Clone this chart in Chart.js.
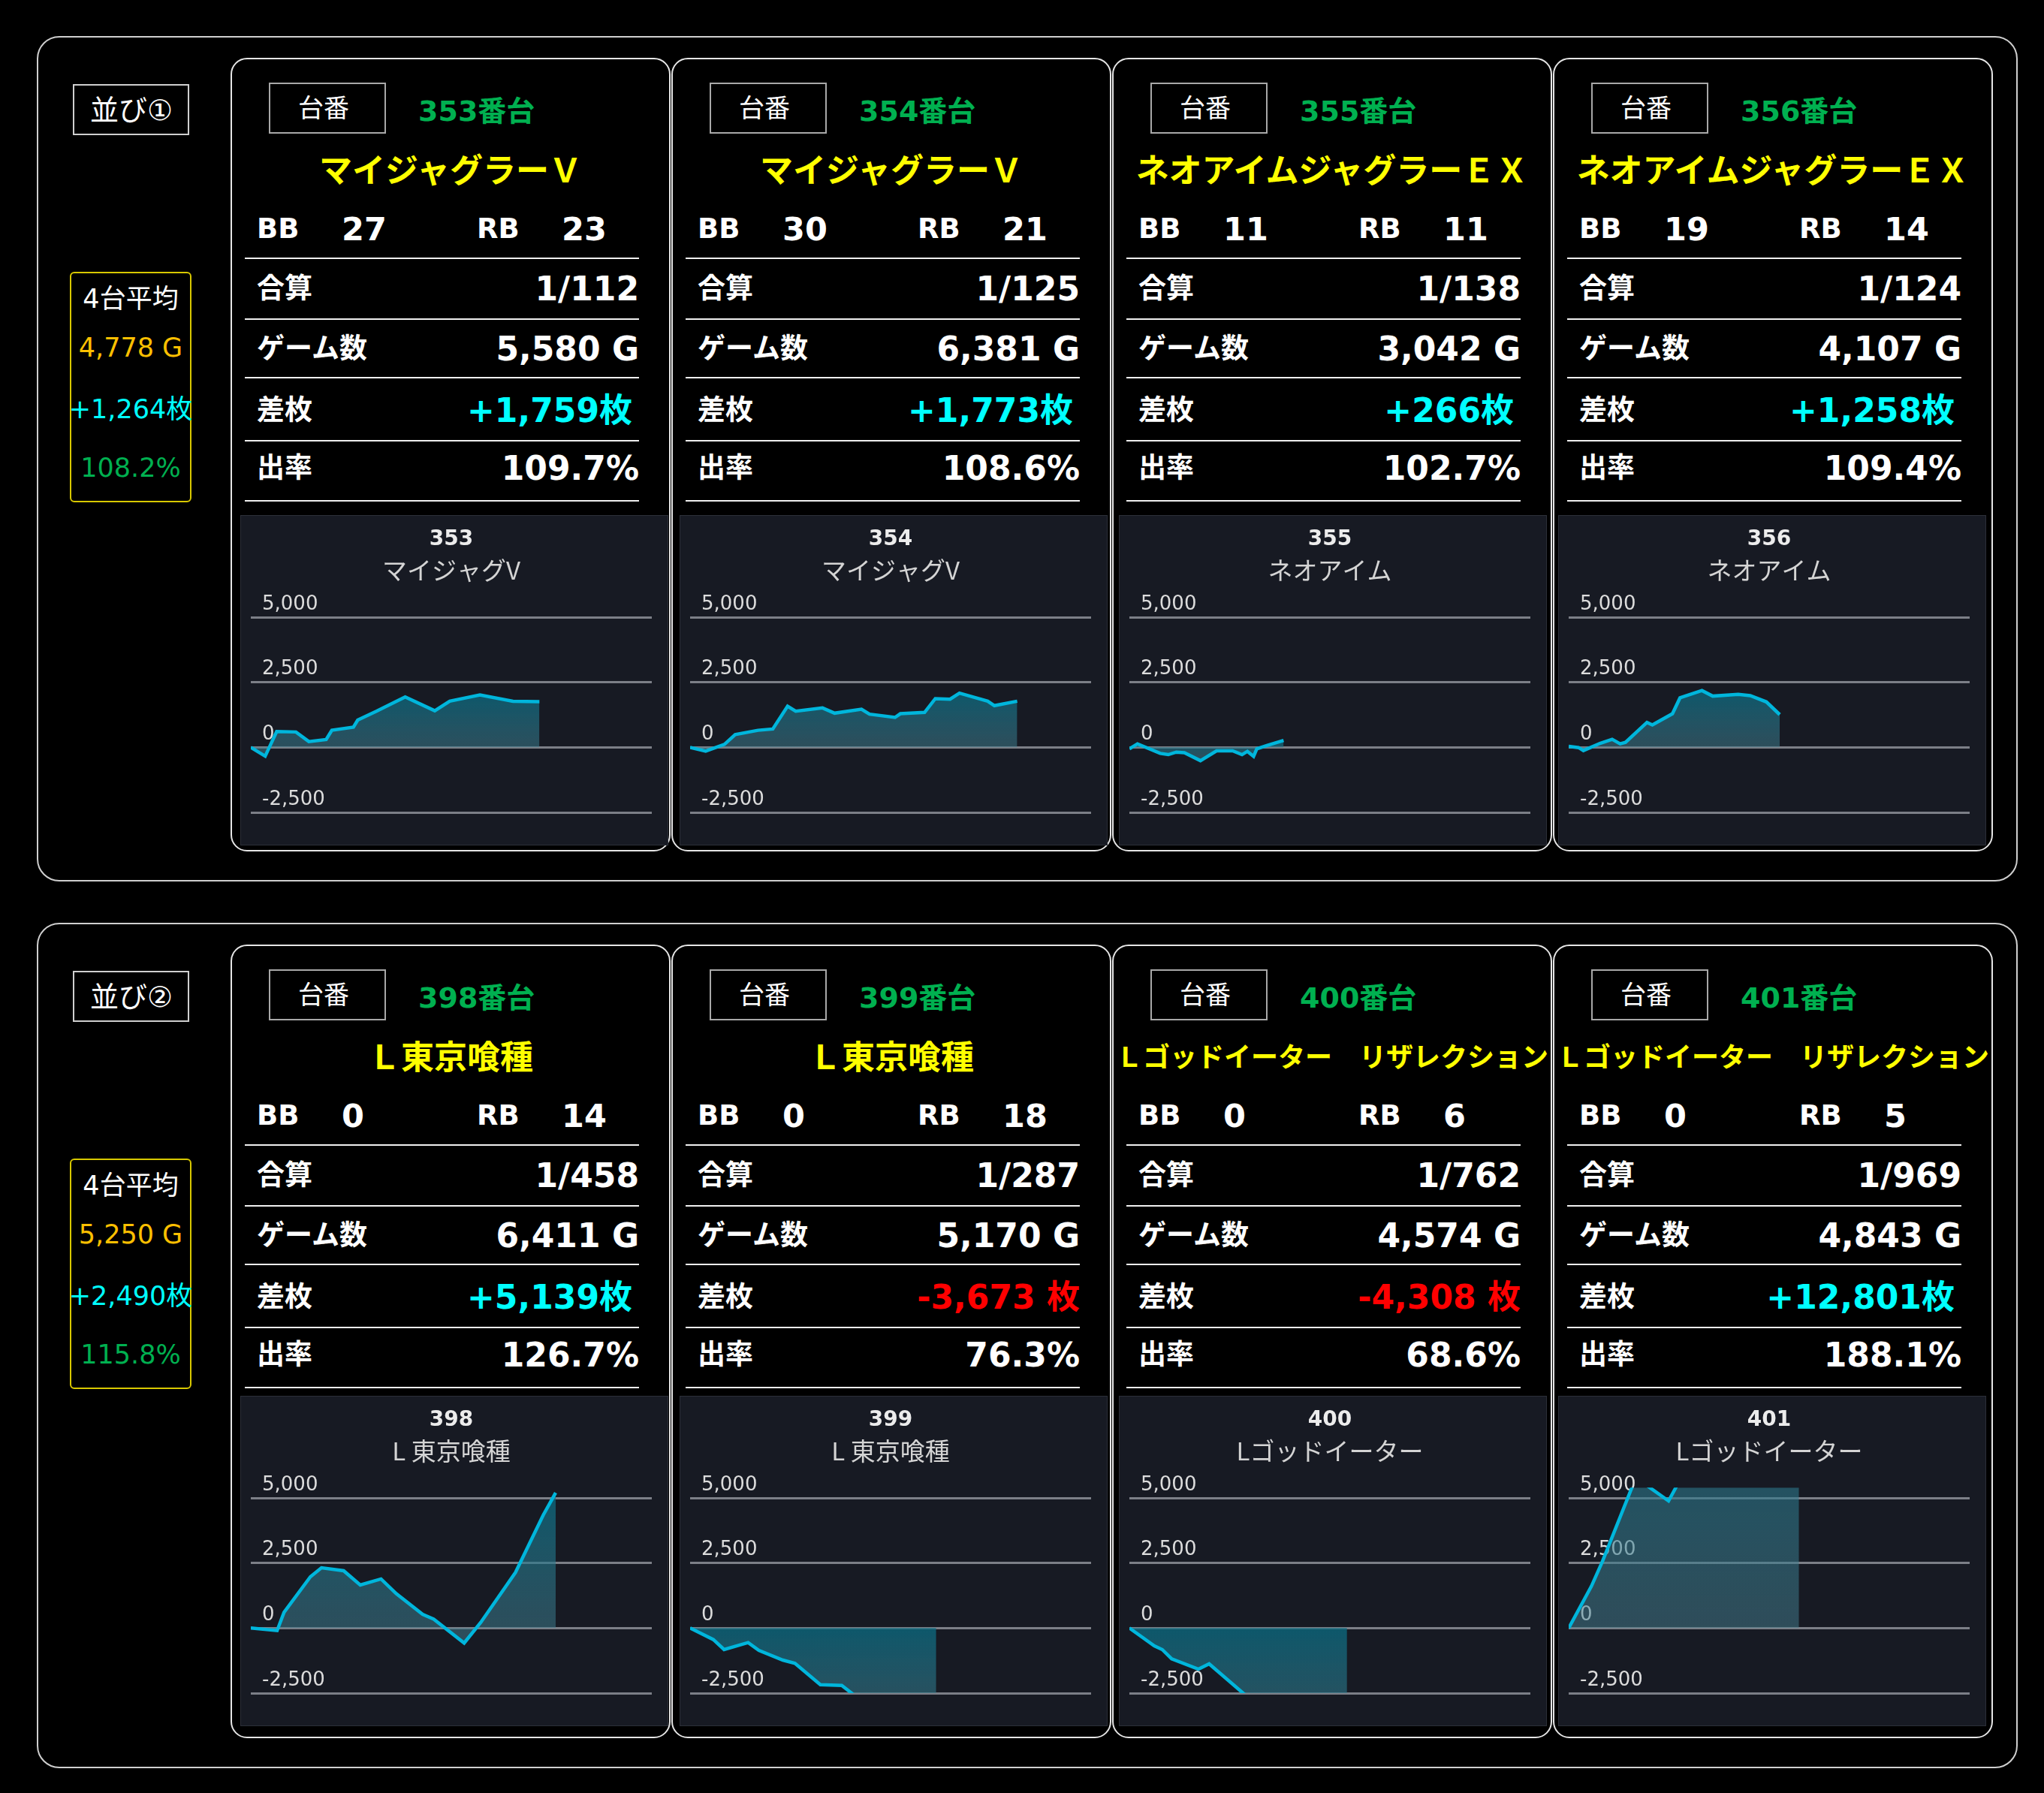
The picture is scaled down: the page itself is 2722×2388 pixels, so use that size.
<!DOCTYPE html>
<html lang="ja">
<head>
  <meta charset="UTF-8" />
  <title>並び データ</title>
  <script src="https://cdn.jsdelivr.net/npm/chart.js"></script>
  <style>
    * {
      box-sizing: border-box;
    }
    body {
      margin: 0;
      background: #000;
      width: 2722px;
      height: 2388px;
      position: relative;
      overflow: hidden;
      font-family: "DejaVu Sans", "Noto Sans CJK JP", sans-serif;
      color: #fff;
    }
    .group {
      position: absolute;
      left: 49px;
      width: 2638px;
      height: 1126px;
      border: 2px solid #cfcfcf;
      border-radius: 30px;
    }
    .card {
      position: absolute;
      width: 586px;
      height: 1057px;
      border: 2px solid #e6e6e6;
      border-radius: 22px;
    }
    .box {
      position: absolute;
    }
    .t {
      position: absolute;
      white-space: nowrap;
    }
    .rule {
      position: absolute;
      height: 2px;
      background: #f0f0f0;
    }
    .panel {
      position: absolute;
      width: 568px;
      height: 438px;
      background: #171a23;
      outline: 1px solid #2c2f38;
    }
  </style>
</head>
<body>
  <script>
  // ---- machine table ----
  const units = ["353", "354", "355", "356", "398", "399", "400", "401"];
  const names = ["マイジャグラーＶ", "マイジャグラーＶ", "ネオアイムジャグラーＥＸ", "ネオアイムジャグラーＥＸ",
                 "Ｌ東京喰種", "Ｌ東京喰種", "Ｌゴッドイーター　リザレクション", "Ｌゴッドイーター　リザレクション"];
  const shortNames = ["マイジャグV", "マイジャグV", "ネオアイム", "ネオアイム",
                      "L 東京喰種", "L 東京喰種", "Lゴッドイーター", "Lゴッドイーター"];
  const bbCounts = [27, 30, 11, 19, 0, 0, 0, 0];
  const rbCounts = [23, 21, 11, 14, 14, 18, 6, 5];
  const gassan = ["1/112", "1/125", "1/138", "1/124", "1/458", "1/287", "1/762", "1/969"];
  const gameCounts = ["5,580 G", "6,381 G", "3,042 G", "4,107 G", "6,411 G", "5,170 G", "4,574 G", "4,843 G"];
  const diffs = ["+1,759枚", "+1,773枚", "+266枚", "+1,258枚", "+5,139枚", "-3,673 枚", "-4,308 枚", "+12,801枚"];
  const rates = ["109.7%", "108.6%", "102.7%", "109.4%", "126.7%", "76.3%", "68.6%", "188.1%"];

  const groupLabels = ["並び①", "並び②"];
  const avgGames = ["4,778 G", "5,250 G"];
  const avgDiffs = ["+1,264枚", "+2,490枚"];
  const avgRates = ["108.2%", "115.8%"];

  // ---- slump graphs: game position / diff coins ----
  const pos353 = [0, 287, 516, 900, 1158, 1503, 1617, 2047, 2133, 2506, 3080, 3670, 3969, 4571, 5230, 5758];
  const diff353 = [0, -339, 610, 591, 223, 300, 659, 775, 1047, 1386, 1938, 1405, 1773, 2016, 1773, 1759];
  const pos354 = [0, 311, 686, 900, 1356, 1650, 1945, 2106, 2642, 2883, 3419, 3579, 4088, 4195, 4678, 4892, 5187, 5374, 5937, 6071, 6526];
  const diff354 = [0, -145, 116, 492, 656, 705, 1583, 1390, 1515, 1313, 1467, 1274, 1149, 1293, 1342, 1873, 1853, 2085, 1776, 1602, 1773];
  const pos355 = [0, 161, 615, 776, 936, 1097, 1418, 1739, 2060, 2247, 2355, 2478, 2542, 2756, 3077];
  const diff355 = [-58, 135, -232, -280, -183, -203, -512, -135, -135, -280, -154, -347, -58, 77, 266];
  const pos356 = [0, 198, 294, 626, 867, 1027, 1134, 1562, 1670, 2071, 2221, 2659, 2874, 3382, 3623, 3944, 4211];
  const diff356 = [39, -10, -125, 154, 309, 135, 193, 956, 859, 1293, 1902, 2182, 1969, 2037, 1988, 1747, 1258];
  const pos398 = [0, 525, 663, 1189, 1410, 1852, 2184, 2598, 2903, 3428, 3649, 4257, 4589, 5280, 5833, 6082];
  const diff398 = [0, -96, 603, 1973, 2318, 2203, 1657, 1887, 1322, 527, 345, -575, 220, 2136, 4339, 5200];
  const pos399 = [0, 464, 678, 1158, 1372, 1852, 2092, 2599, 3026, 3293, 3853, 4387, 4910];
  const diff399 = [0, -442, -827, -558, -856, -1231, -1356, -2173, -2202, -2606, -3100, -3450, -3673];
  const pos400 = [0, 497, 657, 844, 1378, 1591, 2286, 2980, 3674, 4342];
  const diff400 = [0, -683, -827, -1183, -1577, -1375, -2529, -3300, -3900, -4308];
  const pos401 = [0, 454, 675, 1340, 1993, 2336, 3001, 3831, 4595];
  const diff401 = [0, 1609, 2567, 5780, 4885, 6100, 8000, 10500, 12801];

  const graphPos = [pos353, pos354, pos355, pos356, pos398, pos399, pos400, pos401];
  const graphDiff = [diff353, diff354, diff355, diff356, diff398, diff399, diff400, diff401];

  const yTicks = [-2500, 0, 2500, 5000];
  const X_MAX = 8000;
  const Y_MIN = -2500;
  const Y_MAX = 5400;

  const LATIN = "'DejaVu Sans', 'Noto Sans CJK JP', sans-serif";
  const CJK = "'Noto Sans CJK JP', sans-serif";

  // ---- little DOM helpers ----
  function put(parent, text, x, cy, size, opts = {}) {
    const el = document.createElement("div");
    el.className = "t";
    const h = Math.round(size * 1.4);
    el.style.top = (cy - h / 2) + "px";
    el.style.height = h + "px";
    el.style.lineHeight = h + "px";
    el.style.fontSize = size + "px";
    el.style.fontWeight = opts.bold ? "700" : "400";
    el.style.color = opts.color || "#fff";
    if (opts.align === "right") {
      el.style.left = (x - 1000) + "px";
      el.style.width = "1000px";
      el.style.textAlign = "right";
    } else if (opts.align === "center") {
      el.style.left = (x - 500) + "px";
      el.style.width = "1000px";
      el.style.textAlign = "center";
    } else {
      el.style.left = x + "px";
    }
    el.textContent = text;
    parent.appendChild(el);
    return el;
  }

  function box(parent, x, y, w, h, css) {
    const el = document.createElement("div");
    el.className = "box";
    el.style.left = x + "px";
    el.style.top = y + "px";
    el.style.width = w + "px";
    el.style.height = h + "px";
    Object.assign(el.style, css || {});
    parent.appendChild(el);
    return el;
  }

  const cardLeft = [307, 894, 1481, 2068];
  const groupOffset = [0, 1181];
  const panelTop = [687, 1860];
  const ruleY = [267, 348, 426, 510, 590];
  const rowY = [307, 387, 469, 546];
  const rowLabels = ["合算", "ゲーム数", "差枚", "出率"];

  for (let g = 0; g < 2; g++) {
    const off = groupOffset[g];
    const grp = document.createElement("div");
    grp.className = "group";
    grp.style.top = (48 + off) + "px";
    document.body.appendChild(grp);

    box(document.body, 97, 112 + off, 155, 68, { border: "2px solid #cfcfcf" });
    put(document.body, groupLabels[g], 175, 147 + off, 38, { align: "center" });

    box(document.body, 93, 362 + off, 162, 307, { border: "2px solid #d8c800", borderRadius: "6px" });
    put(document.body, "4台平均", 174, 398 + off, 35, { align: "center" });
    put(document.body, avgGames[g], 174, 463 + off, 35, { align: "center", color: "#ffc000" });
    put(document.body, avgDiffs[g], 174, 545 + off, 35, { align: "center", color: "#00ffff" });
    put(document.body, avgRates[g], 174, 623 + off, 35, { align: "center", color: "#00b050" });
  }

  units.forEach((unit, i) => {
    const g = Math.floor(i / 4);
    const off = groupOffset[g];
    const card = document.createElement("div");
    card.className = "card";
    card.style.left = cardLeft[i % 4] + "px";
    card.style.top = (77 + off) + "px";
    document.body.appendChild(card);

    box(card, 49, 31, 156, 68, { border: "2px solid #a8a8a8" });
    put(card, "台番", 122, 65, 34, { align: "center" });
    put(card, unit + "番台", 248, 69, 38, { bold: true, color: "#00b050" });

    const longName = names[i].length > 12;
    put(card, names[i], 291, 149, longName ? 36 : 44, { bold: true, color: "#ffff00", align: "center" });

    put(card, "BB", 33, 226, 37, { bold: true });
    put(card, String(bbCounts[i]), 146, 226, 43, { bold: true });
    put(card, "RB", 326, 226, 37, { bold: true });
    put(card, String(rbCounts[i]), 439, 226, 43, { bold: true });

    ruleY.forEach(y => {
      const r = document.createElement("div");
      r.className = "rule";
      r.style.left = "17px";
      r.style.width = "525px";
      r.style.top = (y - 3) + "px";
      card.appendChild(r);
    });

    const values = [gassan[i], gameCounts[i], diffs[i], rates[i]];
    rowLabels.forEach((label, r) => {
      put(card, label, 33, rowY[r] - 1, 37, { bold: true });
      let color = "#fff";
      let right = 542;
      if (r === 2) {
        const neg = values[r].startsWith("-");
        color = neg ? "#ff0000" : "#00ffff";
        right = neg ? 542 : 533;
      }
      put(card, values[r], right, rowY[r] - 1, 44, { bold: true, color, align: "right" });
    });

    // chart panel
    const panel = document.createElement("div");
    panel.className = "panel";
    panel.style.left = (321 + (i % 4) * 585) + "px";
    panel.style.top = panelTop[g] + "px";
    document.body.appendChild(panel);
    const canvas = document.createElement("canvas");
    canvas.width = 568;
    canvas.height = 438;
    panel.appendChild(canvas);

    const points = graphPos[i].map((x, k) => ({ x: x, y: graphDiff[i][k] }));
    drawGraph(canvas, unit, shortNames[i], points);
  });

  function areaFill(context) {
    const chart = context.chart;
    if (!chart.chartArea) return "rgba(30,100,120,0.6)";
    const ys = context.dataset.data.map(p => p.y);
    const top = chart.scales.y.getPixelForValue(Math.max(0, ...ys));
    const bottom = chart.scales.y.getPixelForValue(Math.min(0, ...ys));
    const grad = chart.ctx.createLinearGradient(0, top, 0, bottom);
    grad.addColorStop(0, "rgba(10,112,135,0.72)");
    grad.addColorStop(1, "rgba(70,128,145,0.5)");
    return grad;
  }

  function drawGraph(canvas, unit, shortName, points) {
    return new Chart(canvas.getContext("2d"), {
      type: "line",
      data: {
        datasets: [{
          data: points,
          borderColor: "#00b6dc",
          borderWidth: 4.5,
          pointRadius: 0,
          tension: 0,
          fill: "origin",
          backgroundColor: areaFill
        }]
      },
      options: {
        responsive: false,
        animation: false,
        layout: { padding: { left: 13, right: 21, top: 0, bottom: 43 } },
        plugins: {
          legend: { display: false },
          tooltip: { enabled: false },
          title: {
            display: true,
            text: unit,
            color: "#ececec",
            font: { family: LATIN, size: 28, weight: "bold", lineHeight: 1.2 },
            padding: { top: 15, bottom: 0 }
          },
          subtitle: {
            display: true,
            text: shortName,
            color: "#d4d4d4",
            font: { family: CJK, size: 33, weight: "normal", lineHeight: 1.2 },
            padding: { top: 4, bottom: 29 }
          }
        },
        scales: {
          x: { type: "linear", min: 0, max: X_MAX, display: false },
          y: {
            min: Y_MIN,
            max: Y_MAX,
            afterBuildTicks: scale => {
              scale.ticks = yTicks.map(v => ({ value: v }));
            },
            afterFit: scale => {
              scale.width = 0;
            },
            border: { display: false },
            grid: { color: "#7c7f87", lineWidth: 3, drawTicks: false },
            ticks: {
              mirror: true,
              padding: 15,
              labelOffset: -17,
              color: "#dcdcdc",
              font: { family: LATIN, size: 26 },
              callback: v => Number(v).toLocaleString("en-US")
            }
          }
        }
      }
    });
  }
  </script>
</body>
</html>
